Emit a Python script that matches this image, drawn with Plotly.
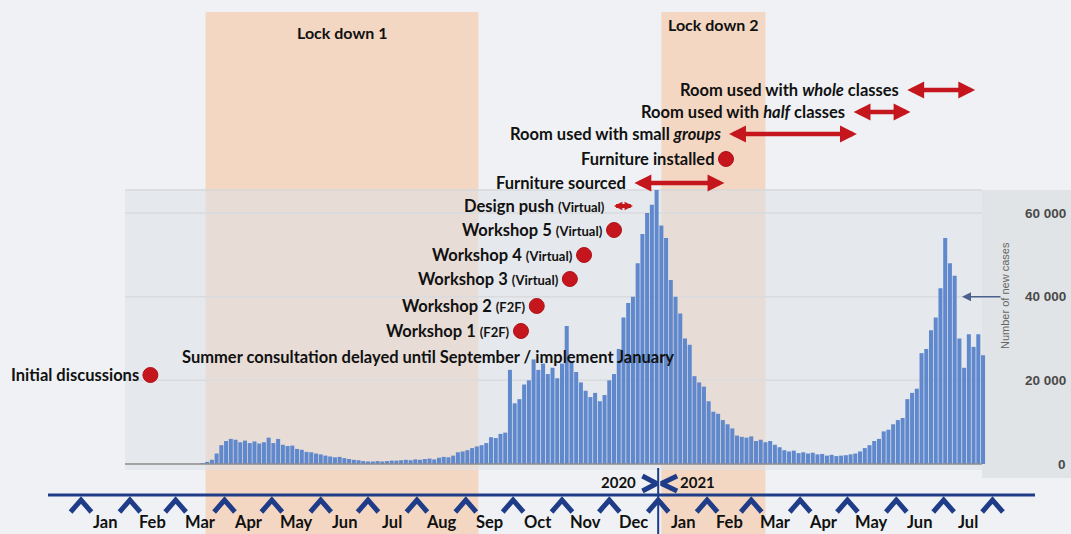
import re
import pandas as pd
import plotly.graph_objects as go

# ------------------------------------------------------------------ data
case_start = "2020-03-18"          # first bar of the new-cases series
case_step = "3D"                   # one bar per three days
new_cases = [
    200, 500, 1000, 2500, 4500, 5500, 6000, 5800, 5200, 5600,
    5000, 5400, 4900, 5200, 6300, 5000, 6000, 4600, 4300, 4400,
    3600, 3400, 2900, 2800, 2500, 2300, 2000, 1800, 1600, 1700,
    1400, 1200, 1000, 900, 700, 600, 600, 700, 600, 700,
    800, 800, 900, 1000, 900, 1100, 1000, 1200, 1300, 1100,
    1500, 1700, 1600, 2000, 2800, 3000, 3300, 3800, 4200, 4500,
    5000, 6400, 6200, 7200, 7500, 22500, 14500, 15500, 19000, 20000,
    25000, 22500, 24000, 21500, 23000, 20500, 24000, 33000, 24500, 22000,
    19500, 17500, 16000, 17000, 15000, 16500, 20000, 21500, 27500, 35000,
    38500, 40000, 48000, 55000, 60000, 62000, 65500, 57000, 54000, 44000,
    40000, 36000, 30000, 28500, 21000, 19500, 18500, 15000, 12500, 12000,
    10500, 9500, 8500, 6800, 6500, 6300, 6600, 5500, 5800, 5200,
    5500, 4600, 4000, 3300, 3000, 3200, 2600, 2800, 2500, 2700,
    2300, 2400, 2000, 2200, 1900, 2000, 2100, 2300, 2500, 3000,
    3800, 4500, 5500, 6000, 7800, 8200, 9500, 10500, 11000, 15500,
    17000, 18000, 26500, 27500, 32000, 35000, 42000, 54000, 48000, 45000,
    30000, 23000, 31000, 28000, 31000, 26000,
]

tick_values = [0, 20000, 40000, 60000]
tick_labels = ["0", "20 000", "40 000", "60 000"]
axis_title = "Number of new cases"

month_labels = ["Jan", "Feb", "Mar", "Apr", "May", "Jun", "Jul", "Aug", "Sep",
                "Oct", "Nov", "Dec", "Jan", "Feb", "Mar", "Apr", "May", "Jun", "Jul"]
timeline_start = "2020-01-01"
timeline_end = "2021-08-01"
year_boundary = "2021-01-01"
year_labels = ["2020", "2021"]

lockdown_names = ["Lock down 1", "Lock down 2"]
lockdown_start = ["2020-03-20", "2021-01-03"]
lockdown_end = ["2020-09-09", "2021-03-10"]

point_names = ["Initial discussions", "Workshop 1 (F2F)", "Workshop 2 (F2F)",
               "Workshop 3 (Virtual)", "Workshop 4 (Virtual)", "Workshop 5 (Virtual)",
               "Furniture installed"]
point_dates = ["2020-02-14", "2020-10-06", "2020-10-16", "2020-11-06",
               "2020-11-15", "2020-12-04", "2021-02-13"]

range_names = ["Design push (Virtual)", "Furniture sourced",
               "Room used with small <i>groups</i>", "Room used with <i>half</i> classes",
               "Room used with <i>whole</i> classes"]
range_start = ["2020-12-03", "2020-12-16", "2021-02-14", "2021-05-04", "2021-06-07"]
range_end = ["2020-12-16", "2021-02-12", "2021-05-07", "2021-06-10", "2021-07-21"]

note_text = "Summer consultation delayed until September / implement January"
note_date = "2020-08-08"

# ------------------------------------------------------------------ layout geometry (pixels)
W, H = 1071, 534
X0_PX, PX_PER_DAY = 81.0, 1.577          # pixel of 1 Jan 2020, pixels per day
BASE_PX, PX_PER_CASE = 464.0, 251.0 / 60000
point_rows = [375, 331, 306, 279, 255, 230, 159]
range_rows = [206, 183, 134, 112, 90]
note_row = 357
lock_rows = [32, 24]

base = pd.Timestamp(timeline_start)


def px_to_date(px):
    return base + pd.Timedelta(days=(px - X0_PX) / PX_PER_DAY)


def py_to_val(py):
    return (BASE_PX - py) / PX_PER_CASE


def py_paper(py):
    return 1 - py / H


def fmt(ts):
    return pd.Timestamp(ts).strftime("%Y-%m-%d %H:%M:%S")


NAVY = "#1f3c88"
RED = "#c4161c"
BLUE = "#6088cd"
FONT = "Lato"

fig = go.Figure()

# ------------------------------------------------------------------ background shapes
shapes = []
for s, e in zip(lockdown_start, lockdown_end):
    shapes.append(dict(type="rect", xref="x", yref="paper", x0=s, x1=e, y0=0,
                       y1=py_paper(12), fillcolor="#f5c7a2", opacity=0.6,
                       line_width=0, layer="below"))
# chart panel
shapes.append(dict(type="rect", xref="paper", yref="paper", x0=125 / W, x1=982 / W,
                   y0=py_paper(470), y1=py_paper(190), fillcolor="#dde0e5",
                   opacity=0.55, line_width=0, layer="below"))
shapes.append(dict(type="rect", xref="paper", yref="paper", x0=982 / W, x1=1.0,
                   y0=py_paper(478), y1=py_paper(190), fillcolor="#dcdfe3",
                   opacity=0.75, line_width=0, layer="below"))
shapes.append(dict(type="line", xref="paper", yref="paper", x0=125 / W, x1=982 / W,
                   y0=py_paper(190), y1=py_paper(190), line=dict(color="#d6d8db", width=1.5),
                   layer="below"))
for tv in tick_values[1:]:
    shapes.append(dict(type="line", xref="paper", yref="y", x0=125 / W, x1=982 / W,
                       y0=tv, y1=tv, line=dict(color="#d9dbde", width=1.5), layer="below"))
shapes.append(dict(type="line", xref="paper", yref="y", x0=125 / W, x1=982 / W,
                   y0=0, y1=0, line=dict(color="#8c8c8c", width=1.5), layer="above"))
# timeline
shapes.append(dict(type="line", xref="paper", yref="paper", x0=48 / W, x1=1035 / W,
                   y0=py_paper(495), y1=py_paper(495), line=dict(color=NAVY, width=3),
                   layer="above"))
shapes.append(dict(type="line", xref="x", yref="paper", x0=year_boundary, x1=year_boundary,
                   y0=0, y1=py_paper(468), line=dict(color=NAVY, width=2), layer="above"))

# ------------------------------------------------------------------ bars
case_dates = pd.date_range(case_start, periods=len(new_cases), freq=case_step)
fig.add_trace(go.Bar(x=case_dates, y=new_cases, marker=dict(color=BLUE, line_width=0),
                     hoverinfo="skip"))

# ------------------------------------------------------------------ month chevrons
month_starts = pd.date_range(timeline_start, timeline_end, freq="MS")
cx, cy = [], []
half = pd.Timedelta(days=6.6)
y_tip, y_low = py_to_val(500), py_to_val(512)
for m in month_starts:
    cx += [fmt(m - half), fmt(m), fmt(m + half), None]
    cy += [y_low, y_tip, y_low, None]
# year boundary "><"
yb = pd.Timestamp(year_boundary)
ymid, ytop, ybot = py_to_val(483.5), py_to_val(476), py_to_val(491)
for near, far in [(-1.0, -10.0), (2.0, 12.0)]:
    cx += [fmt(yb + pd.Timedelta(days=far)), fmt(yb + pd.Timedelta(days=near)),
           fmt(yb + pd.Timedelta(days=far)), None]
    cy += [ytop, ymid, ybot, None]
fig.add_trace(go.Scatter(x=cx, y=cy, mode="lines", line=dict(color=NAVY, width=5),
                         hoverinfo="skip"))

# ------------------------------------------------------------------ red event markers
fig.add_trace(go.Scatter(x=point_dates, y=[py_to_val(r) for r in point_rows], mode="markers",
                         marker=dict(color=RED, size=15, line=dict(color="#b01218", width=1)),
                         hoverinfo="skip"))

# ------------------------------------------------------------------ annotations
ann = []


def styled(name):
    return re.sub(r"\((.*?)\)", r"<span style='font-size:13px'>(\1)</span>", name)


label_font = dict(family=FONT, size=16.5, color="#111111", weight="bold")
for name, d, r in zip(point_names, point_dates, point_rows):
    ann.append(dict(x=d, y=py_paper(r), xref="x", yref="paper", text=styled(name),
                    showarrow=False, xanchor="right", yanchor="middle", xshift=-9,
                    font=label_font))
for name, s, e, r in zip(range_names, range_start, range_end, range_rows):
    short = (pd.Timestamp(e) - pd.Timestamp(s)).days < 20
    size = 0.42 if short else 0.75
    ann.append(dict(x=s, y=py_paper(r), xref="x", yref="paper", text=styled(name),
                    showarrow=False, xanchor="right", yanchor="middle", xshift=-5,
                    font=label_font))
    ann.append(dict(x=e, y=py_paper(r), xref="x", yref="paper", ax=s, ay=0,
                    axref="x", ayref="pixel", text="", showarrow=True,
                    arrowside="end+start", arrowhead=2, startarrowhead=2,
                    arrowsize=size, startarrowsize=size,
                    arrowwidth=4 if short else 4.5,
                    arrowcolor=RED, standoff=0, startstandoff=0))
ann.append(dict(x=note_date, y=py_paper(note_row), xref="x", yref="paper", text=note_text,
                showarrow=False, xanchor="center", yanchor="middle", font=label_font))

for name, s, e, r in zip(lockdown_names, lockdown_start, lockdown_end, lock_rows):
    mid = pd.Timestamp(s) + (pd.Timestamp(e) - pd.Timestamp(s)) / 2
    ann.append(dict(x=fmt(mid), y=py_paper(r), xref="x", yref="paper", text=name,
                    showarrow=False, xanchor="center", yanchor="middle",
                    font=dict(family=FONT, size=16, color="#111111", weight="bold")))

for i, lab in enumerate(month_labels):
    mid = month_starts[i] + (month_starts[i + 1] - month_starts[i]) / 2
    ann.append(dict(x=fmt(mid), y=py_paper(522), xref="x", yref="paper", text=lab,
                    showarrow=False, xanchor="center", yanchor="middle",
                    font=dict(family=FONT, size=16.5, color="#111111", weight="bold")))

for lab, off in zip(year_labels, [-25, 25]):
    ann.append(dict(x=fmt(yb + pd.Timedelta(days=off)), y=py_paper(482), xref="x",
                    yref="paper", text=lab, showarrow=False, xanchor="center",
                    yanchor="middle",
                    font=dict(family=FONT, size=15, color="#111111", weight="bold")))

for tv, tl in zip(tick_values, tick_labels):
    ann.append(dict(x=1068 / W, y=tv, xref="paper", yref="y", text=tl, showarrow=False,
                    xanchor="right", yanchor="middle",
                    font=dict(family="Liberation Sans", size=13.5, color="#4a4a4a",
                              weight="bold")))

ann.append(dict(x=1005 / W, y=py_paper(296), xref="paper", yref="paper", text=axis_title,
                textangle=-90, showarrow=False, xanchor="center", yanchor="middle",
                font=dict(family="Liberation Sans", size=11, color="#666666")))
ann.append(dict(x=962 / W, y=tick_values[2], xref="paper", yref="y", ax=40, ay=0,
                text="", showarrow=True, arrowhead=2, arrowsize=1.2, arrowwidth=1.5,
                arrowcolor="#4d5f8c", standoff=0))

fig.update_layout(
    width=W, height=H, autosize=False,
    margin=dict(l=0, r=0, t=0, b=0, pad=0),
    paper_bgcolor="#eff1f4", plot_bgcolor="rgba(0,0,0,0)",
    showlegend=False, bargap=0.15, hovermode=False,
    shapes=shapes, annotations=ann,
    xaxis=dict(type="date", range=[fmt(px_to_date(0)), fmt(px_to_date(W))],
               visible=False, domain=[0, 1], fixedrange=True),
    yaxis=dict(range=[py_to_val(H), py_to_val(0)], visible=False, domain=[0, 1],
               fixedrange=True),
)

fig.write_html("out.html", config={"displayModeBar": False},
               post_script="document.body.style.margin='0';document.body.style.overflow='hidden';")
